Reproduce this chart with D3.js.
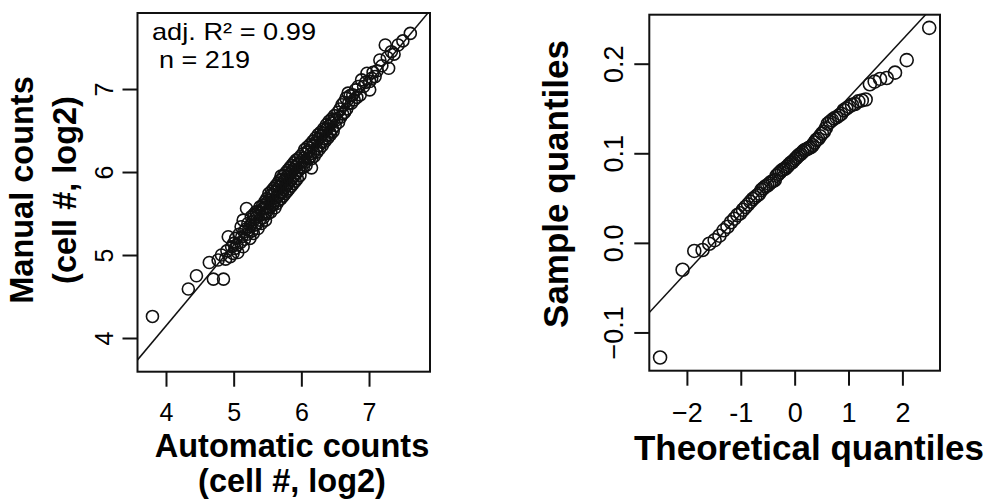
<!DOCTYPE html>
<html>
<head>
<meta charset="utf-8">
<script src="https://cdn.jsdelivr.net/npm/d3@7"></script>
<style>
  body { margin: 0; background: #fff; }
  svg { display: block; font-family: "Liberation Sans", Arial, sans-serif; }
</style>
</head>
<body>
<svg id="chart" width="988" height="504"></svg>
<script>
// left panel: automatic vs manual counts (log2), 219 images
const autoCounts = [
  3.80,4.33,4.45,4.64,4.70,4.77,4.85,4.82,4.88,4.90,4.92,4.95,4.97,4.99,5.00,
  5.02,5.03,5.05,5.06,5.08,5.10,5.11,5.12,5.14,5.14,5.15,5.16,5.18,5.19,5.20,
  5.21,5.22,5.24,5.25,5.26,5.27,5.28,5.29,5.30,5.31,5.32,5.33,5.34,5.35,5.36,
  5.37,5.38,5.39,5.40,5.41,5.42,5.43,5.44,5.45,5.46,5.46,5.47,5.48,5.49,5.49,5.50,
  5.51,5.52,5.52,5.53,5.54,5.55,5.55,5.56,5.57,5.58,5.58,5.59,5.60,5.61,5.61,
  5.62,5.63,5.64,5.64,5.65,5.66,5.67,5.67,5.68,5.69,5.70,5.70,5.70,5.71,5.72,
  5.73,5.73,5.74,5.75,5.76,5.76,5.77,5.78,5.79,5.79,5.80,5.81,5.82,5.82,5.83,
  5.84,5.85,5.85,5.86,5.87,5.88,5.88,5.89,5.90,5.91,5.91,5.92,5.93,5.94,5.94,
  5.95,5.96,5.97,5.98,5.99,6.00,
  6.01,6.02,6.03,6.04,6.05,6.06,6.07,6.08,6.09,6.10,6.11,6.12,6.13,6.14,6.15,6.15,
  6.16,6.17,6.18,6.19,6.20,6.21,6.22,6.23,6.24,6.25,6.26,6.27,6.28,6.29,6.30,
  6.31,6.32,6.33,6.34,6.35,6.36,6.37,6.38,6.39,6.40,6.41,6.42,6.43,6.44,6.45,
  6.46,6.47,6.48,6.49,6.50,
  6.52,6.54,6.55,6.57,6.58,6.60,6.61,6.63,6.64,6.66,6.67,6.69,6.70,6.72,6.74,
  6.76,6.78,6.80,6.82,6.84,6.87,6.89,6.92,6.95,6.97,
  7.01,7.01,7.04,7.06,7.09,7.12,7.16,7.19,7.24,7.27,7.29,7.33,7.37,7.43,7.50,7.61
];
const manualCounts = [
  4.26,4.59,4.75,4.91,4.71,4.94,4.71,5.00,4.95,5.05,5.22,4.98,5.10,5.02,5.14,
  5.08,5.20,5.12,5.03,5.25,5.15,5.34,5.22,5.10,5.42,5.28,5.19,5.31,5.56,5.25,
  5.38,5.30,5.20,5.36,5.46,5.29,5.40,5.26,5.49,5.36,5.44,5.52,5.37,5.47,5.32,
  5.52,5.42,5.58,5.48,5.38,5.55,5.60,5.45,5.57,5.64,5.50,5.42,5.62,5.52,5.68,5.58,
  5.50,5.66,5.74,5.57,5.62,5.72,5.52,5.77,5.61,5.72,5.60,5.80,5.65,5.76,5.57,
  5.83,5.69,5.79,5.62,5.86,5.72,5.82,5.66,5.90,5.75,5.85,5.68,5.95,5.91,5.76,
  5.88,5.71,5.96,5.81,5.91,5.74,5.99,5.84,5.94,5.77,6.02,5.87,5.97,5.80,6.05,
  5.90,6.00,5.83,6.08,5.93,6.03,5.86,6.11,5.96,6.06,5.89,6.14,5.99,6.09,5.92,
  6.16,6.02,6.11,5.96,6.19,6.05,
  6.12,6.22,6.06,6.17,6.27,6.12,6.08,6.24,6.30,6.16,6.26,6.17,6.33,6.22,6.16,6.05,
  6.31,6.37,6.24,6.19,6.35,6.41,6.28,6.24,6.39,6.45,6.32,6.28,6.43,6.48,6.36,
  6.32,6.47,6.52,6.40,6.37,6.51,6.57,6.44,6.41,6.55,6.61,6.48,6.45,6.59,6.64,
  6.52,6.49,6.63,6.68,6.56,
  6.63,6.72,6.60,6.76,6.66,6.81,6.70,6.84,6.72,6.89,6.76,6.95,6.83,6.92,6.83,
  6.93,6.87,6.99,6.90,7.03,6.93,7.11,7.03,7.08,7.19,
  6.99,7.09,7.13,7.20,7.15,7.22,7.35,7.28,7.53,7.38,7.25,7.45,7.42,7.53,7.58,7.67
];
const countFit = { intercept: 0.25, slope: 0.974 };
const countTicks = [4, 5, 6, 7];
const countNotes = ['adj. R\u00b2 = 0.99', 'n = 219'];

// right panel: normal Q-Q plot of residuals (80 points)
const theoreticalQ = [
  -2.498,-2.080,-1.863,-1.709,-1.586,-1.485,-1.396,-1.318,-1.247,-1.182,
  -1.120,-1.064,-1.010,-0.959,-0.911,-0.864,-0.820,-0.776,-0.735,-0.694,
  -0.655,-0.616,-0.579,-0.542,-0.506,-0.471,-0.437,-0.402,-0.369,-0.335,
  -0.302,-0.269,-0.237,-0.205,-0.173,-0.141,-0.110,-0.078,-0.047,-0.016,
  0.016,0.047,0.078,0.110,0.141,0.173,0.205,0.237,0.269,0.302,
  0.335,0.369,0.402,0.437,0.471,0.506,0.542,0.579,0.616,0.655,
  0.694,0.735,0.776,0.820,0.864,0.911,0.959,1.010,1.064,1.120,
  1.182,1.247,1.318,1.396,1.485,1.586,1.709,1.863,2.080,2.498
];
const sampleQ = [
  -0.128,-0.030,-0.009,-0.008,-0.001,0.003,0.008,0.014,0.018,0.023,
  0.027,0.031,0.033,0.037,0.040,0.043,0.046,0.049,0.051,0.053,
  0.055,0.059,0.061,0.063,0.064,0.066,0.068,0.069,0.070,0.075,
  0.077,0.079,0.081,0.082,0.083,0.085,0.087,0.089,0.090,0.092,
  0.094,0.096,0.098,0.099,0.101,0.103,0.104,0.105,0.106,0.107,
  0.109,0.112,0.115,0.116,0.119,0.122,0.124,0.128,0.133,0.135,
  0.137,0.139,0.140,0.142,0.144,0.148,0.150,0.152,0.154,0.155,
  0.158,0.159,0.160,0.177,0.180,0.183,0.184,0.190,0.204,0.240
];
const qqFit = { intercept: 0.0972, slope: 0.0648 };
const qqXTicks = [-2, -1, 0, 1, 2];
const qqXLabels = ['\u22122', '-1', '0', '1', '2'];
const qqYTicks = [-0.1, 0, 0.1, 0.2];
const qqYLabels = ['\u22120.1', '0.0', '0.1', '0.2'];

const svg = d3.select('#chart');
const ink = '#111';

function drawPanel(p) {
  const x = d3.scaleLinear().domain(p.xDomain).range([p.left, p.right]);
  const y = d3.scaleLinear().domain(p.yDomain).range([p.bottom, p.top]);
  const g = svg.append('g');

  g.append('clipPath').attr('id', p.id + '-clip')
    .append('rect')
    .attr('x', p.left).attr('y', p.top)
    .attr('width', p.right - p.left).attr('height', p.bottom - p.top);

  const inner = g.append('g').attr('clip-path', `url(#${p.id}-clip)`);

  // fitted / reference line across the whole plot region
  inner.append('line')
    .attr('x1', x(p.xDomain[0])).attr('y1', y(p.fit.intercept + p.fit.slope * p.xDomain[0]))
    .attr('x2', x(p.xDomain[1])).attr('y2', y(p.fit.intercept + p.fit.slope * p.xDomain[1]))
    .attr('stroke', ink).attr('stroke-width', 1.5);

  inner.selectAll('circle')
    .data(p.xs.map((v, i) => [v, p.ys[i]]))
    .enter().append('circle')
    .attr('cx', d => x(d[0]))
    .attr('cy', d => y(d[1]))
    .attr('r', p.r)
    .attr('fill', 'none')
    .attr('stroke', ink)
    .attr('stroke-width', 1.6);

  g.append('rect')
    .attr('x', p.left).attr('y', p.top)
    .attr('width', p.right - p.left).attr('height', p.bottom - p.top)
    .attr('fill', 'none').attr('stroke', ink).attr('stroke-width', 2);

  const xAxis = g.append('g')
    .attr('transform', `translate(0,${p.bottom})`)
    .call(d3.axisBottom(x).tickValues(p.xTicks).tickSize(15)
      .tickFormat((d, i) => p.xLabels[i]));
  xAxis.select('.domain').remove();
  xAxis.selectAll('.tick line').attr('stroke', ink).attr('stroke-width', 2);
  xAxis.selectAll('.tick text')
    .attr('y', p.xLabelY).attr('dy', 0)
    .attr('fill', '#000')
    .style('font-size', p.tickFont + 'px');

  const yAxis = g.append('g')
    .attr('transform', `translate(${p.left},0)`)
    .call(d3.axisLeft(y).tickValues(p.yTicks).tickSize(15)
      .tickFormat((d, i) => p.yLabels[i]));
  yAxis.select('.domain').remove();
  yAxis.selectAll('.tick line').attr('stroke', ink).attr('stroke-width', 2);
  yAxis.selectAll('.tick text')
    .attr('transform', 'rotate(-90)')
    .attr('x', 0).attr('y', -p.yLabelGap).attr('dy', 0)
    .attr('text-anchor', 'middle')
    .attr('fill', '#000')
    .style('font-size', p.tickFont + 'px');

  // axis titles
  p.xTitle.forEach((t, i) => {
    g.append('text')
      .attr('x', p.xTitleX).attr('y', p.xTitleY[i])
      .attr('text-anchor', 'middle')
      .style('font-size', p.titleFont + 'px').style('font-weight', 'bold')
      .text(t);
  });
  p.yTitle.forEach((t, i) => {
    g.append('text')
      .attr('transform', `translate(${p.yTitleX[i]},${p.yTitleY}) rotate(-90)`)
      .attr('text-anchor', 'middle')
      .style('font-size', p.titleFont + 'px').style('font-weight', 'bold')
      .text(t);
  });
  return g;
}

const left = drawPanel({
  id: 'counts',
  left: 137.5, right: 430, top: 13, bottom: 371.7,
  xDomain: [3.579, 7.901], yDomain: [3.594, 7.916],
  xs: autoCounts, ys: manualCounts, fit: countFit, r: 6,
  xTicks: countTicks, xLabels: countTicks.map(String),
  yTicks: countTicks, yLabels: countTicks.map(String),
  tickFont: 25, xLabelY: 49.5, yLabelGap: 24.5,
  titleFont: 32.5,
  xTitle: ['Automatic counts', '(cell #, log2)'], xTitleX: 292, xTitleY: [457, 492],
  yTitle: ['Manual counts', '(cell #, log2)'], yTitleX: [33, 76], yTitleY: 190
});

// fit annotation, top-left corner
const noteX = [152, 159];
const noteY = [39.5, 67.5];
const noteW = [164, 91];
left.selectAll('.note')
  .data(countNotes)
  .enter().append('text')
  .attr('class', 'note')
  .attr('x', (d, i) => noteX[i])
  .attr('y', (d, i) => noteY[i])
  .attr('textLength', (d, i) => noteW[i])
  .attr('lengthAdjust', 'spacingAndGlyphs')
  .style('font-size', '24px')
  .text(d => d);

drawPanel({
  id: 'qq',
  left: 649.3, right: 940, top: 14.7, bottom: 370.7,
  xDomain: [-2.698, 2.698], yDomain: [-0.1427, 0.2547],
  xs: theoreticalQ, ys: sampleQ, fit: qqFit, r: 6.5,
  xTicks: qqXTicks, xLabels: qqXLabels,
  yTicks: qqYTicks, yLabels: qqYLabels,
  tickFont: 27, xLabelY: 51.3, yLabelGap: 26,
  titleFont: 35,
  xTitle: ['Theoretical quantiles'], xTitleX: 809, xTitleY: [460],
  yTitle: ['Sample quantiles'], yTitleX: [568], yTitleY: 184
});
</script>
</body>
</html>
